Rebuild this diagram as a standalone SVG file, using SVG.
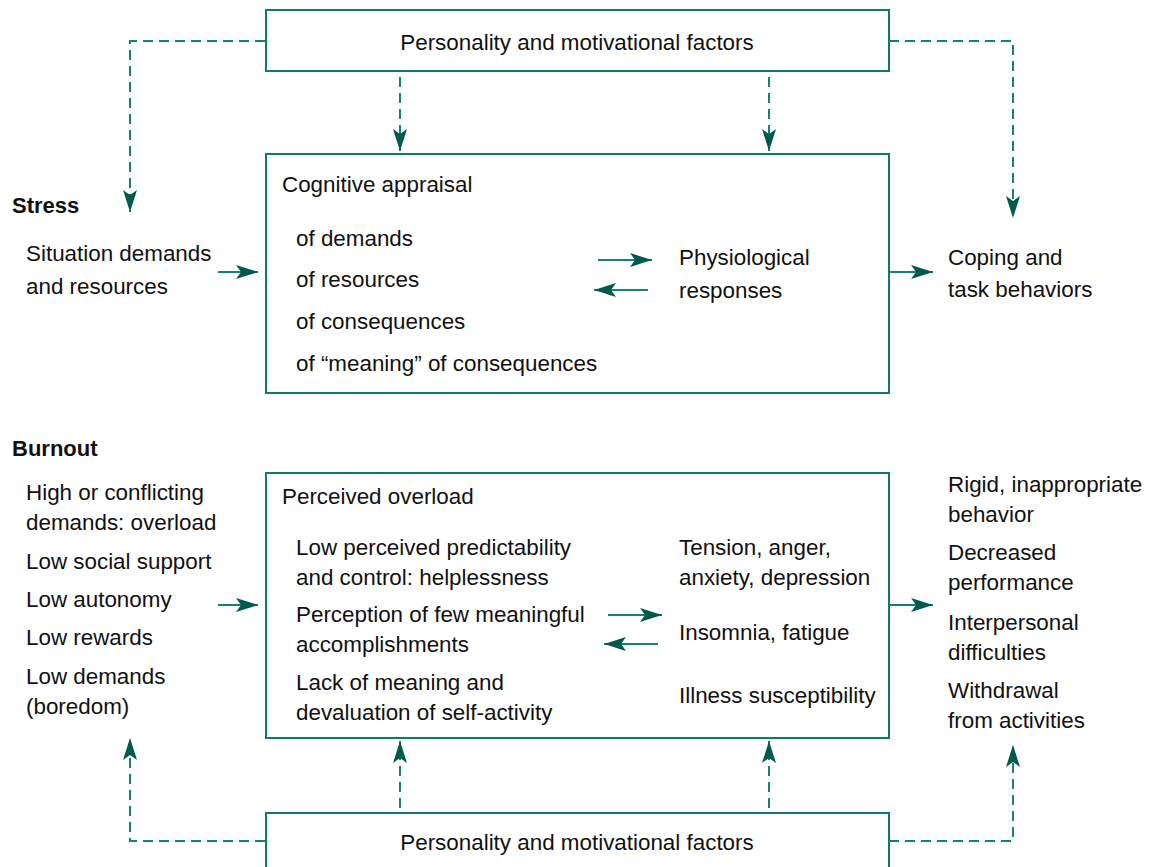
<svg xmlns="http://www.w3.org/2000/svg" width="1153" height="867" viewBox="0 0 1153 867">
<style>
.box{fill:none;stroke:#11786c;stroke-width:2}
.t{font-family:"Liberation Sans",Arial,sans-serif;font-size:22.4px;fill:#111}
.b{font-family:"Liberation Sans",Arial,sans-serif;font-size:22px;font-weight:bold;fill:#111}
.d{fill:none;stroke:#168272;stroke-width:2;stroke-dasharray:10,6}
.s{fill:none;stroke:#168272;stroke-width:2}
</style>
<defs>
<marker id="ah" markerWidth="24" markerHeight="16" refX="22" refY="7" orient="auto" markerUnits="userSpaceOnUse">
<path d="M0,0 L22,7 L0,14 L5,7 Z" fill="#035a4c"/>
</marker>
</defs>
<rect width="1153" height="867" fill="#fff"/>
<g id="top-factors">
<rect class="box" x="266" y="10" width="623" height="61"/>
<text class="t" x="577" y="50" text-anchor="middle">Personality and motivational factors</text>
</g>
<g id="stress-label"><text class="b" x="12" y="213">Stress</text></g>
<g id="situation">
<text class="t" x="26" y="261">Situation demands</text>
<text class="t" x="26" y="294">and resources</text>
</g>
<g id="cognitive">
<rect class="box" x="266" y="154" width="623" height="239"/>
<text class="t" x="282" y="192">Cognitive appraisal</text>
<text class="t" x="296" y="246">of demands</text>
<text class="t" x="296" y="287">of resources</text>
<text class="t" x="296" y="329">of consequences</text>
<text class="t" x="296" y="371">of “meaning” of consequences</text>
<text class="t" x="679" y="265">Physiological</text>
<text class="t" x="679" y="298">responses</text>
</g>
<g id="coping">
<text class="t" x="948" y="265">Coping and</text>
<text class="t" x="948" y="297">task behaviors</text>
</g>
<g id="burnout-label"><text class="b" x="12" y="456">Burnout</text></g>
<g id="burnout-causes">
<text class="t" x="26" y="500">High or conflicting</text>
<text class="t" x="26" y="530">demands: overload</text>
<text class="t" x="26" y="569">Low social support</text>
<text class="t" x="26" y="607">Low autonomy</text>
<text class="t" x="26" y="645">Low rewards</text>
<text class="t" x="26" y="684">Low demands</text>
<text class="t" x="26" y="714">(boredom)</text>
</g>
<g id="overload">
<rect class="box" x="266" y="473" width="623" height="265"/>
<text class="t" x="282" y="504">Perceived overload</text>
<text class="t" x="296" y="555">Low perceived predictability</text>
<text class="t" x="296" y="585">and control: helplessness</text>
<text class="t" x="296" y="622">Perception of few meaningful</text>
<text class="t" x="296" y="652">accomplishments</text>
<text class="t" x="296" y="690">Lack of meaning and</text>
<text class="t" x="296" y="720">devaluation of self-activity</text>
<text class="t" x="679" y="555">Tension, anger,</text>
<text class="t" x="679" y="585">anxiety, depression</text>
<text class="t" x="679" y="640">Insomnia, fatigue</text>
<text class="t" x="679" y="703">Illness susceptibility</text>
</g>
<g id="burnout-outcomes">
<text class="t" x="948" y="492">Rigid, inappropriate</text>
<text class="t" x="948" y="522">behavior</text>
<text class="t" x="948" y="560">Decreased</text>
<text class="t" x="948" y="590">performance</text>
<text class="t" x="948" y="630">Interpersonal</text>
<text class="t" x="948" y="660">difficulties</text>
<text class="t" x="948" y="698">Withdrawal</text>
<text class="t" x="948" y="728">from activities</text>
</g>
<g id="bottom-factors">
<rect class="box" x="266" y="813" width="623" height="60"/>
<text class="t" x="577" y="850" text-anchor="middle">Personality and motivational factors</text>
</g>
<g id="connectors">
<path class="d" d="M265,41 H130 V212" marker-end="url(#ah)"/>
<path class="d" d="M889,41 H1013 V218" marker-end="url(#ah)"/>
<path class="d" d="M400,77 V151" marker-end="url(#ah)"/>
<path class="d" d="M769,77 V151" marker-end="url(#ah)"/>
<path class="d" d="M265,841 H130 V738" marker-end="url(#ah)"/>
<path class="d" d="M889,841 H1013 V745" marker-end="url(#ah)"/>
<path class="d" d="M400,808 V741" marker-end="url(#ah)"/>
<path class="d" d="M769,808 V741" marker-end="url(#ah)"/>
<path class="s" d="M218,272 H258" marker-end="url(#ah)"/>
<path class="s" d="M889,272 H933" marker-end="url(#ah)"/>
<path class="s" d="M598,260 H652" marker-end="url(#ah)"/>
<path class="s" d="M648,290 H594" marker-end="url(#ah)"/>
<path class="s" d="M218,605 H258" marker-end="url(#ah)"/>
<path class="s" d="M889,605 H933" marker-end="url(#ah)"/>
<path class="s" d="M608,615 H662" marker-end="url(#ah)"/>
<path class="s" d="M658,644 H604" marker-end="url(#ah)"/>
</g>
</svg>
